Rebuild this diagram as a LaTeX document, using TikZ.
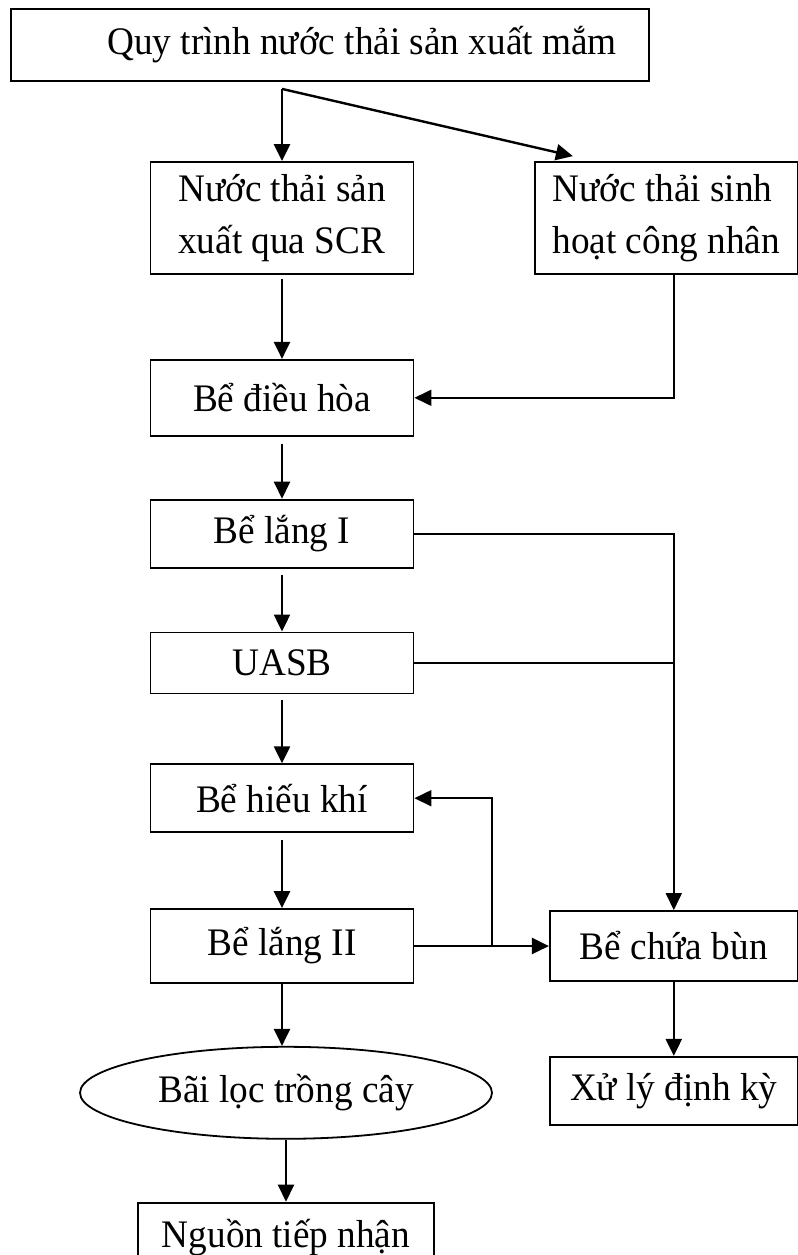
\documentclass[tikz,border=0pt]{standalone}
\usepackage{fontspec}
\setmainfont{Liberation Serif}[FakeStretch=0.955]
\usetikzlibrary{shapes.geometric, arrows.meta, positioning, calc}

\begin{document}
\begin{tikzpicture}[
    font=\fontsize{19.5pt}{26pt}\selectfont,
    stage/.style={draw, line width=0.9pt, minimum width=131.5pt, inner sep=0pt, align=center},
    source/.style={stage, align=left, minimum height=56pt},
    field/.style={draw, line width=0.9pt, ellipse, minimum width=206pt, minimum height=46pt, inner sep=0pt},
    arrow/.style={-{Triangle[length=8.5pt, width=8pt]}, line width=1.2pt},
    pipe/.style={line width=0.9pt}
]
\useasboundingbox (0,0) rectangle (399pt,-627.5pt);

\node[stage, minimum width=319pt, minimum height=36pt] (title) at (165pt,-22.5pt) {\hspace*{32pt}Quy trình nước thải sản xuất mắm};
\node[source] (sx) at (141pt,-109pt) {Nước thải sản\\xuất qua SCR};
\node[source, right=59.75pt of sx] (sh) {Nước thải sinh\\hoạt công nhân};
\node[stage, minimum height=38pt, below=42pt of sx] (dieuhoa) {Bể điều hòa};
\node[stage, minimum height=34pt, below=31pt of dieuhoa] (lang1) {Bể lắng I};
\node[stage, minimum height=30.5pt, below=31.5pt of lang1] (uasb) {UASB};
\node[stage, minimum height=34pt, below=34.5pt of uasb] (hieukhi) {Bể hiếu khí};
\node[stage, minimum height=37pt, below=37.5pt of hieukhi] (lang2) {Bể lắng II};
\node[field, below=31pt of lang2, xshift=2pt] (bailoc) {Bãi lọc trồng cây};
\node[stage, minimum width=148pt, minimum height=35pt, below=31pt of bailoc] (nguon) {Nguồn tiếp nhận};
\node[stage, minimum width=124pt, minimum height=35pt, right=67.25pt of lang2] (chuabun) {Bể chứa bùn};
\node[stage, minimum width=124pt, minimum height=34pt, below=37pt of chuabun] (xuly) {Xử lý định kỳ};

\coordinate (split) at ([yshift=-3.5pt]title.south -| sx.north);
\coordinate (loop) at (246pt,0);

\draw[arrow] (split) -- (sx);
\draw[arrow] (split) -- ([xshift=19.5pt,yshift=2.5pt]sh.north west);
\draw[arrow, shorten <=2pt] (sx) -- (dieuhoa);
\draw[arrow, shorten <=3.5pt] (dieuhoa) -- (lang1);
\draw[arrow, shorten <=3pt] (lang1) -- (uasb);
\draw[arrow, shorten <=3pt] (uasb) -- (hieukhi);
\draw[arrow, shorten <=3.5pt] (hieukhi) -- (lang2);
\draw[arrow] (lang2.south) -- (lang2.south |- bailoc.north);
\draw[arrow] (bailoc) -- (nguon);
\draw[arrow, pipe] (sh.south -| chuabun.north) |- (dieuhoa.east);
\draw[arrow, pipe] (lang1.east) -| (chuabun.north);
\draw[pipe] (uasb.east) -- (uasb.east -| chuabun.north);
\draw[arrow] (lang2.east) -- (chuabun.west);
\draw[arrow, pipe] (lang2.east -| loop) |- (hieukhi.east);
\draw[arrow] (chuabun) -- (xuly);
\end{tikzpicture}
\end{document}
